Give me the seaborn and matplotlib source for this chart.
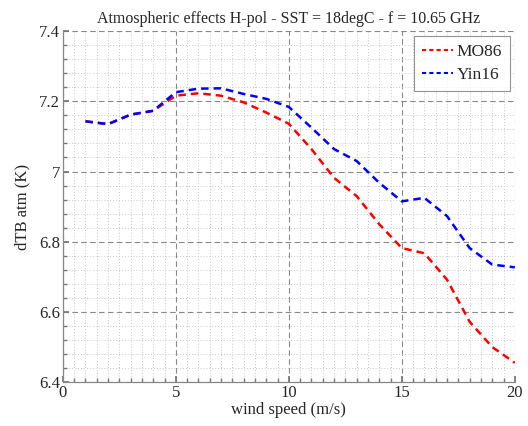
import pandas as pd
import seaborn as sns
import matplotlib.pyplot as plt
from matplotlib.ticker import MultipleLocator

# Data
wind = list(range(1, 21))
mo86 = [7.143, 7.135, 7.162, 7.173, 7.216, 7.223, 7.216, 7.197, 7.168, 7.136,
        7.064, 6.982, 6.930, 6.850, 6.782, 6.767, 6.692, 6.572, 6.500, 6.455]
yin16 = [7.143, 7.135, 7.162, 7.173, 7.226, 7.236, 7.237, 7.221, 7.207, 7.184,
         7.125, 7.064, 7.030, 6.968, 6.915, 6.925, 6.873, 6.782, 6.735, 6.727]

df = pd.DataFrame({"wind": wind * 2,
                   "dtb": mo86 + yin16,
                   "model": ["MO86"] * len(wind) + ["Yin16"] * len(wind)})

sns.set_theme(style="ticks")
plt.rcParams["font.family"] = ["Liberation Serif", "DejaVu Serif"]

fig = plt.figure(figsize=(5.28, 4.26), dpi=100)
ax = fig.add_axes([0.119, 0.103, 0.856, 0.824])

sns.lineplot(data=df, x="wind", y="dtb", hue="model",
             palette={"MO86": "#ff0000", "Yin16": "#0000ff"},
             linewidth=1.8, ax=ax)
for line in ax.get_lines():
    line.set_linestyle((0, (3, 2)))

ax.set_xlim(0, 20)
ax.set_ylim(6.4, 7.4)
ax.xaxis.set_major_locator(MultipleLocator(5))
ax.xaxis.set_minor_locator(MultipleLocator(0.5))
ax.yaxis.set_major_locator(MultipleLocator(0.2))
ax.yaxis.set_minor_locator(MultipleLocator(0.04))
ax.yaxis.set_major_formatter(plt.FuncFormatter(lambda v, p: f"{v:g}"))

ax.grid(which="major", color="#888888", linestyle=(0, (5, 3)), linewidth=0.8)
ax.grid(which="minor", color="#c8c8c8", linestyle=(0, (1, 2)), linewidth=0.7)
ax.tick_params(which="both", direction="in", top=False, right=False,
               labelsize=12, color="#777777", pad=2)
ax.tick_params(which="major", length=4)
ax.tick_params(which="minor", length=3)
ax.spines["top"].set_visible(False)
ax.spines["right"].set_visible(False)
for s in ["left", "bottom"]:
    ax.spines[s].set_color("#888888")
    ax.spines[s].set_linewidth(0.9)

ax.set_title("Atmospheric effects H-pol - SST = 18degC - f = 10.65 GHz",
             fontsize=11.5, pad=6)
ax.set_xlabel("wind speed (m/s)", fontsize=12, labelpad=1)
ax.set_ylabel("dTB atm (K)", fontsize=12, labelpad=6)

leg = ax.legend(loc="upper right", fontsize=12.5, frameon=True, fancybox=False,
                edgecolor="#777777", handlelength=1.8, handletextpad=0.2,
                borderpad=0.45, labelspacing=0.4, borderaxespad=0.3)
for h in leg.get_lines():
    h.set_linestyle((0, (2, 1.5)))
    h.set_linewidth(1.5)
leg.get_frame().set_linewidth(0.8)

fig.savefig("out.png", dpi=100)
